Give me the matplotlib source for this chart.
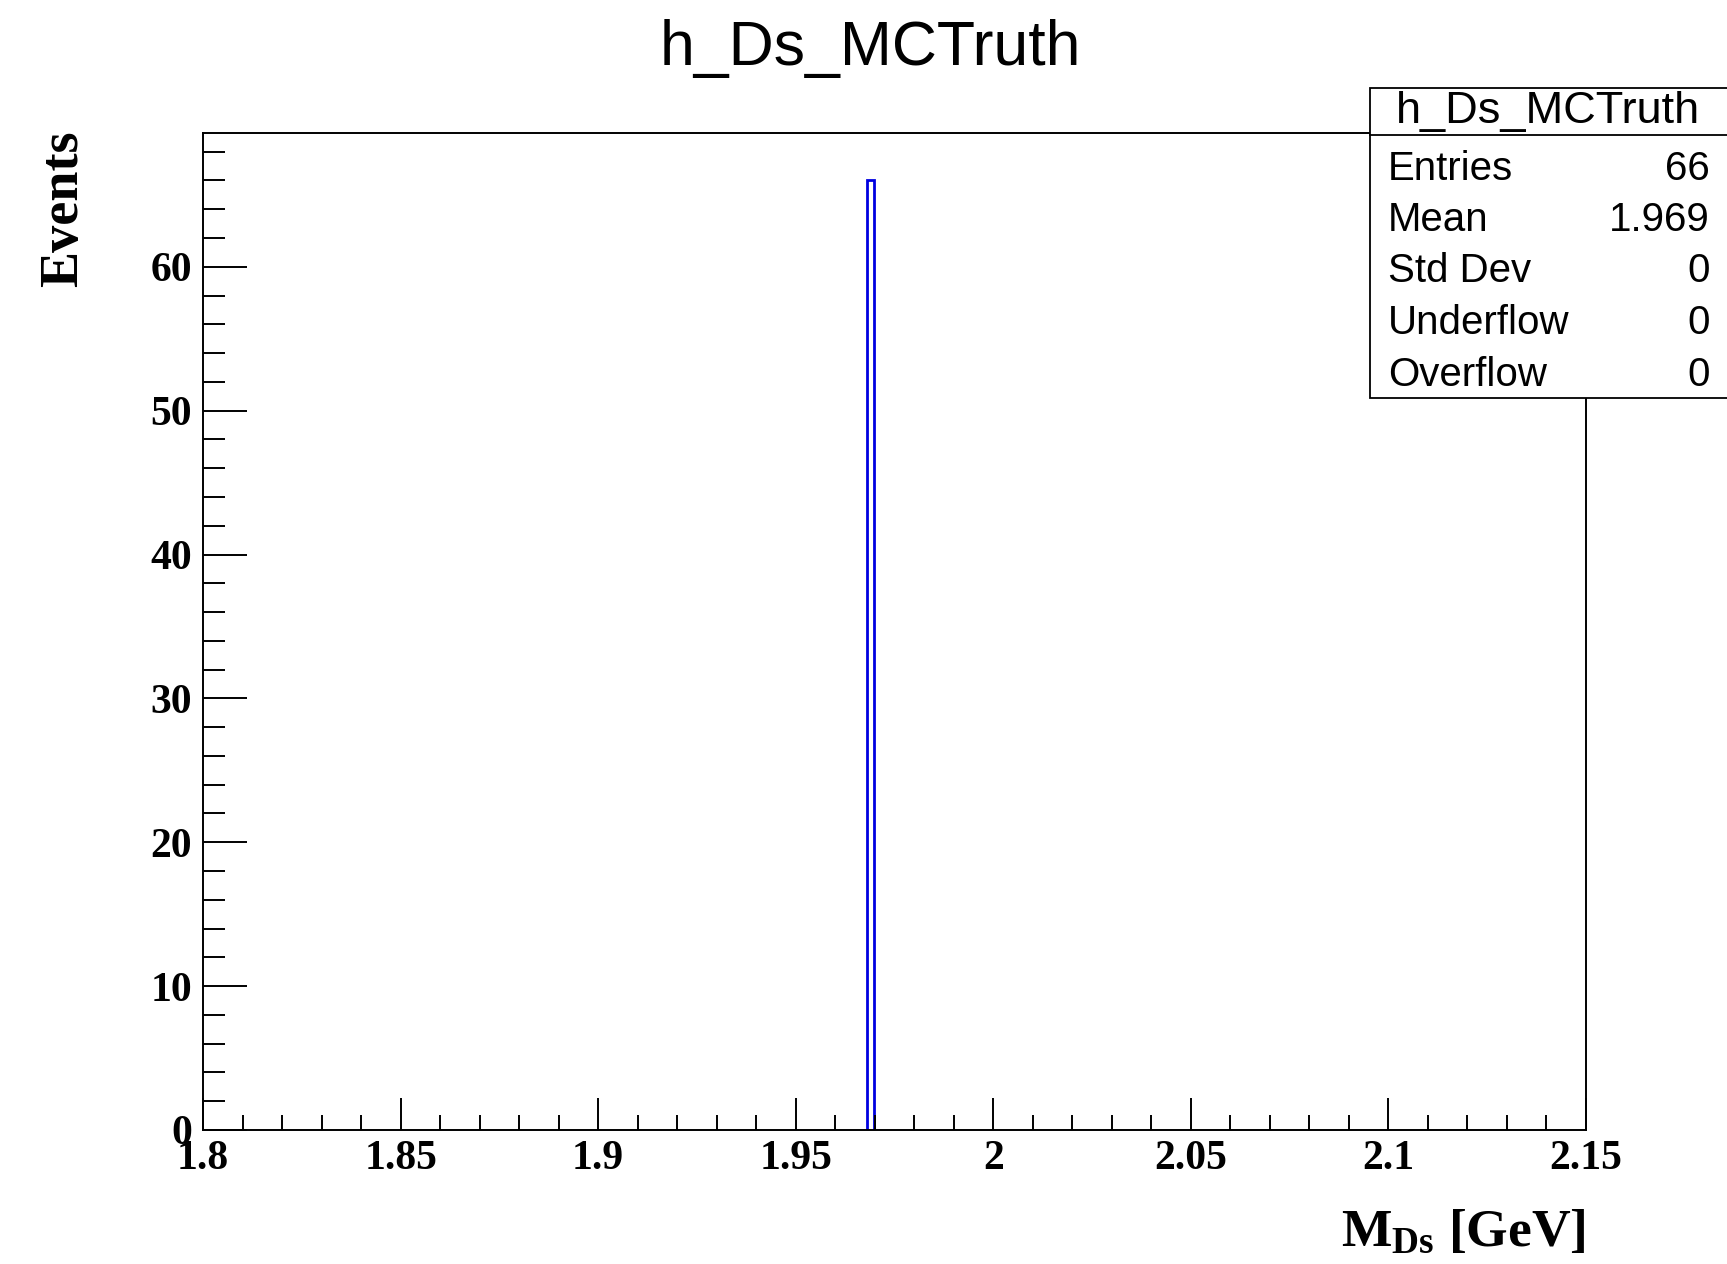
import matplotlib
matplotlib.use("Agg")
import matplotlib.pyplot as plt
from matplotlib.patches import Rectangle
from matplotlib.lines import Line2D
from matplotlib.ticker import MultipleLocator

# histogram content (only the filled bin; all other bins are empty)
bin_edges = [1.968, 1.96975]
bin_counts = [66]
x_range = (1.8, 2.15)
y_max = 69.3

hist_name = "h_Ds_MCTruth"
stat_names = ["Entries", "Mean", "Std Dev", "Underflow", "Overflow"]
stat_values = ["66", "1.969", "0", "0", "0"]

plt.rcParams['mathtext.fontset'] = 'custom'
plt.rcParams['mathtext.rm'] = 'Liberation Serif:bold'
plt.rcParams['mathtext.it'] = 'Liberation Serif:bold'
plt.rcParams['mathtext.bf'] = 'Liberation Serif:bold'

W, H = 1727, 1264
fig = plt.figure(figsize=(W / 100, H / 100), dpi=100)
ax = fig.add_axes([203 / W, 1 - 1130 / H, (1586 - 203) / W, (1130 - 133) / H])

ax.stairs(bin_counts, bin_edges, baseline=0, color='#0000e0', lw=2.0)

ax.set_xlim(*x_range)
ax.set_ylim(0, y_max)
ax.xaxis.set_major_locator(MultipleLocator(0.05))
ax.xaxis.set_minor_locator(MultipleLocator(0.01))
ax.yaxis.set_major_locator(MultipleLocator(10))
ax.yaxis.set_minor_locator(MultipleLocator(2))
ax.set_xticks([1.8, 1.85, 1.9, 1.95, 2.0, 2.05, 2.1, 2.15])
ax.set_xticklabels(["1.8", "1.85", "1.9", "1.95", "2", "2.05", "2.1", "2.15"])

for sp in ax.spines.values():
    sp.set_linewidth(1.4)
ax.tick_params(which='both', direction='in', top=False, right=False, width=1.4)
ax.tick_params(axis='y', which='major', length=32, pad=8)
ax.tick_params(axis='y', which='minor', length=16)
ax.tick_params(axis='x', which='major', length=23, pad=7)
ax.tick_params(axis='x', which='minor', length=11)
for lab in ax.get_xticklabels() + ax.get_yticklabels():
    lab.set_fontfamily('Liberation Serif')
    lab.set_fontweight('bold')
    lab.set_fontsize(30)

fig.text(870 / W, 1 - 48 / H, hist_name, ha='center', va='center',
         fontsize=45, fontfamily='Liberation Sans')

fig.text(1586 / W, 1 - 1233 / H, r'$\mathrm{M_{Ds}}$ [GeV]', ha='right', va='center',
         fontsize=38.5, fontfamily='Liberation Serif', fontweight='bold')
fig.text(64 / W, 1 - 130 / H, 'Events', ha='center', va='top', rotation=90,
         fontsize=39, fontfamily='Liberation Serif', fontweight='bold')

# stats box
bx0, bx1, by0, by1, bdiv = 1370, 1740, 88, 398, 135
fig.patches.append(Rectangle((bx0 / W, 1 - by1 / H), (bx1 - bx0) / W, (by1 - by0) / H,
                             transform=fig.transFigure, facecolor='white',
                             edgecolor='black', lw=1.3, zorder=5))
fig.lines.append(Line2D([bx0 / W, bx1 / W], [1 - bdiv / H, 1 - bdiv / H],
                        transform=fig.transFigure, color='black', lw=1.3, zorder=6))
fig.text((1397 + 1699) / 2 / W, 1 - 111 / H, hist_name, ha='center', va='center',
         fontsize=32.5, fontfamily='Liberation Sans', zorder=7)
row_y = [169, 220, 271, 323, 375]
for name, val, yy in zip(stat_names, stat_values, row_y):
    fig.text(1388 / W, 1 - yy / H, name, ha='left', va='center',
             fontsize=29, fontfamily='Liberation Sans', zorder=7)
    fig.text(1710 / W, 1 - yy / H, val, ha='right', va='center',
             fontsize=29, fontfamily='Liberation Sans', zorder=7)

fig.savefig("out.png", dpi=100)
